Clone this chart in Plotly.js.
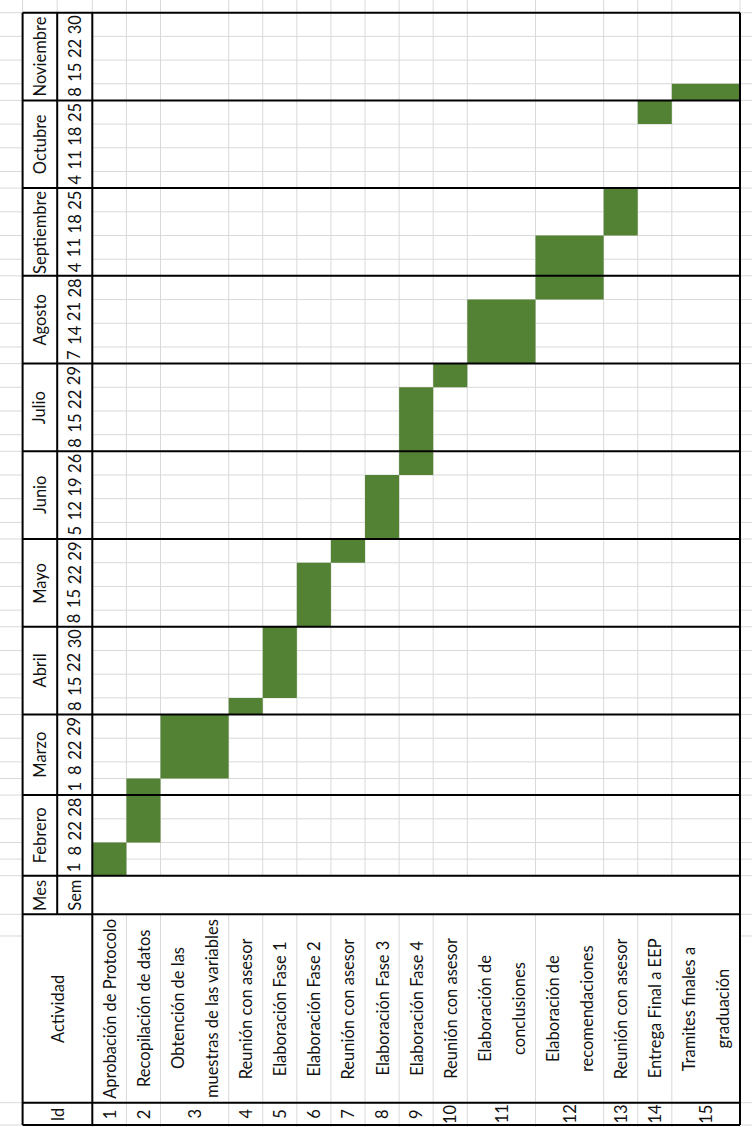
<!DOCTYPE html>
<html>
<head>
<meta charset="utf-8">
<script src="https://cdn.plot.ly/plotly-3.0.1.min.js"></script>
<style>
html, body { margin: 0; padding: 0; background: #ffffff; }
#chart { width: 752px; height: 1127px; }
</style>
</head>
<body>
<div id="chart"></div>
<script>
// ---------------- DATA ----------------
const monthNames = ["Febrero", "Marzo", "Abril", "Mayo", "Junio", "Julio", "Agosto", "Septiembre", "Octubre", "Noviembre"];
const monthWeeks = [
  ["1", "8", "22", "28"],
  ["1", "8", "22", "29"],
  ["8", "15", "22", "30"],
  ["8", "15", "22", "29"],
  ["5", "12", "19", "26"],
  ["8", "15", "22", "29"],
  ["7", "14", "21", "28"],
  ["4", "11", "18", "25"],
  ["4", "11", "18", "25"],
  ["8", "15", "22", "30"]
];
const activityIds = ["1", "2", "3", "4", "5", "6", "7", "8", "9", "10", "11", "12", "13", "14", "15"];
const activityNames = [
  "Aprobación de Protocolo",
  "Recopilación de datos",
  "Obtención de las<br>muestras de las variables",
  "Reunión con asesor",
  "Elaboración Fase 1",
  "Elaboración Fase 2",
  "Reunión con asesor",
  "Elaboración Fase 3",
  "Elaboración Fase 4",
  "Reunión con asesor",
  "Elaboración de<br>conclusiones",
  "Elaboración de<br>recomendaciones",
  "Reunión con asesor",
  "Entrega Final a EEP",
  "Tramites finales a<br>graduación"
];
const startMonth = ["Febrero", "Febrero", "Marzo", "Abril", "Abril", "Mayo", "Mayo", "Junio", "Junio", "Julio", "Agosto", "Agosto", "Septiembre", "Octubre", "Noviembre"];
const startWeek  = ["1", "22", "8", "8", "15", "8", "29", "5", "26", "29", "7", "28", "18", "25", "8"];
const weeksSpan  = [2, 3, 3, 1, 3, 3, 1, 3, 4, 1, 3, 3, 2, 1, 1];

const headerMes = "Mes";
const headerSem = "Sem";
const headerActividad = "Actividad";
const headerId = "Id";

// ---------------- LAYOUT CONSTANTS ----------------
const NARROW = 0.7;          // single-digit week columns are narrower (autofit)
const MES_W = 1.015, SEM_W = 1.03;
const HDR_H = 1.628, ACT_H = 7.946, ID_H = 0.94, HIDDEN_SPLIT = 2.543;
const X_MIN = -2.708, X_MAX = 19.352;
const Y_MIN = -10.599, Y_MAX = 36.934;
const GREEN = "#548235";
const GRID = { color: "#d9d9d9", width: 1 };
const THICK = { color: "#000000", width: 2 };
const FONT = { family: "Lato, Roboto, 'Noto Sans', sans-serif", size: 16.5, color: "#111111" };

// ---------------- DERIVED GEOMETRY ----------------
const weekLabels = [];
const weekMonthIdx = [];
monthWeeks.forEach((wk, m) => wk.forEach(w => { weekLabels.push(w); weekMonthIdx.push(m); }));
const yb = [0];
weekLabels.forEach((w, k) => yb.push(yb[k] + (w.length === 1 ? NARROW : 1)));
const TOP = yb[yb.length - 1];

const lineCount = s => s.split("<br>").length;
const xb = [0];
activityNames.forEach((n, i) => xb.push(xb[i] + lineCount(n)));
const X_R = xb[xb.length - 1];
const TABLE_L = -(MES_W + SEM_W);
const SEM_L = -SEM_W;
const HDR_B = -HDR_H;
const ACT_B = -(HDR_H + ACT_H);
const BOTTOM = -(HDR_H + ACT_H + ID_H);

function weekIndex(month, day) {
  const m = monthNames.indexOf(month);
  let idx = 0;
  for (let j = 0; j < m; j++) idx += monthWeeks[j].length;
  return idx + monthWeeks[m].indexOf(day);
}

// ---------------- BARS ----------------
const barX = [], barW = [], barBase = [], barLen = [];
activityNames.forEach((n, i) => {
  const s = weekIndex(startMonth[i], startWeek[i]);
  barX.push((xb[i] + xb[i + 1]) / 2);
  barW.push(xb[i + 1] - xb[i]);
  barBase.push(yb[s]);
  barLen.push(yb[s + weeksSpan[i]] - yb[s]);
});

const trace = {
  type: "bar",
  orientation: "v",
  x: barX,
  y: barLen,
  base: barBase,
  width: barW,
  marker: { color: GREEN, line: { width: 0 } },
  hoverinfo: "skip",
  showlegend: false
};

// ---------------- SHAPES ----------------
const shapes = [];
function seg(x0, y0, x1, y1, line, layer) {
  shapes.push({ type: "line", xref: "x", yref: "y", x0, y0, x1, y1, line, layer });
}
// gray week-boundary lines
yb.forEach(y => {
  seg(X_MIN, y, TABLE_L, y, GRID, "below");
  seg(0, y, X_MAX, y, GRID, "below");
});
// gray lines outside the table below the weeks
[HDR_B, -HIDDEN_SPLIT, ACT_B, BOTTOM].forEach(y => {
  seg(X_MIN, y, TABLE_L, y, GRID, "below");
  seg(X_R, y, X_MAX, y, GRID, "below");
});
// gray activity-boundary lines
xb.forEach(x => {
  seg(x, 0, x, Y_MAX, GRID, "below");
  seg(x, HDR_B, x, Y_MIN, GRID, "below");
});
[TABLE_L, SEM_L].forEach(x => seg(x, TOP, x, Y_MAX, GRID, "below"));

// thick borders
for (let k = 0; k < yb.length; k += 4) seg(TABLE_L, yb[k], X_R, yb[k], THICK, "above");
[HDR_B, ACT_B, BOTTOM].forEach(y => seg(TABLE_L, y, X_R, y, THICK, "above"));
[TABLE_L, 0, X_R].forEach(x => seg(x, BOTTOM, x, TOP, THICK, "above"));
seg(SEM_L, HDR_B, SEM_L, TOP, THICK, "above");

// ---------------- TEXT ----------------
const annotations = [];
function txt(x, y, text) {
  annotations.push({ xref: "x", yref: "y", x, y, text, showarrow: false, textangle: -90,
    xanchor: "center", yanchor: "middle", font: FONT });
}
const mesX = (TABLE_L + SEM_L) / 2;
const semX = SEM_L / 2;
monthNames.forEach((m, j) => txt(mesX, (yb[4 * j] + yb[4 * j + 4]) / 2, m));
weekLabels.forEach((w, k) => txt(semX, (yb[k] + yb[k + 1]) / 2, w));
txt(mesX, HDR_B / 2, headerMes);
txt(semX, HDR_B / 2, headerSem);
txt(TABLE_L / 2, (HDR_B + ACT_B) / 2, headerActividad);
txt(TABLE_L / 2, (ACT_B + BOTTOM) / 2, headerId);
activityNames.forEach((n, i) => {
  const lines = n.split("<br>");
  const w = xb[i + 1] - xb[i];
  lines.forEach((ln, j) => txt(xb[i] + (j + 0.5) * w / lines.length, (HDR_B + ACT_B) / 2, ln));
  txt((xb[i] + xb[i + 1]) / 2, (ACT_B + BOTTOM) / 2, activityIds[i]);
});

const layout = {
  width: 752,
  height: 1127,
  autosize: false,
  margin: { l: 0, r: 0, t: 0, b: 0, pad: 0 },
  paper_bgcolor: "#ffffff",
  plot_bgcolor: "#ffffff",
  showlegend: false,
  xaxis: { type: "linear", range: [X_MIN, X_MAX], visible: false, fixedrange: true },
  yaxis: { type: "linear", range: [Y_MIN, Y_MAX], visible: false, fixedrange: true },
  shapes,
  annotations
};

Plotly.newPlot("chart", [trace], layout, { displayModeBar: false, staticPlot: true });
</script>
</body>
</html>
